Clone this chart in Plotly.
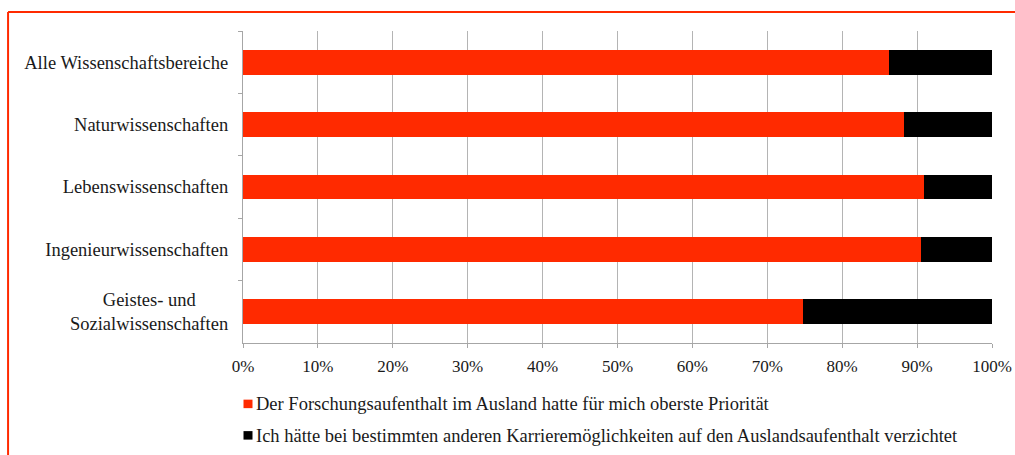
import plotly.graph_objects as go

# Category labels (top to bottom) and shares in percent
categories = [
    "Alle Wissenschaftsbereiche",
    "Naturwissenschaften",
    "Lebenswissenschaften",
    "Ingenieurwissenschaften",
    "Geistes- und&nbsp;&nbsp;&nbsp;&nbsp;&nbsp;&nbsp;&nbsp;<br>Sozialwissenschaften",
]
prioritaet = [86.3, 88.3, 90.9, 90.5, 74.7]
verzicht = [13.7, 11.7, 9.1, 9.5, 25.3]

series_names = [
    "Der Forschungsaufenthalt im Ausland hatte für mich oberste Priorität",
    "Ich hätte bei bestimmten anderen Karrieremöglichkeiten auf den Auslandsaufenthalt verzichtet",
]
series_colors = ["#FF2A00", "#000000"]

x_tickvals = list(range(0, 101, 10))
x_ticktext = [f"{v}%" for v in x_tickvals]

W, H = 1015, 455
M_L, M_R, M_T, M_B = 242.5, 23.3, 31, 111.7
PLOT_W = W - M_L - M_R
PLOT_H = H - M_T - M_B


def px_x(px):
    return (px - M_L) / PLOT_W


def px_y(py):
    return (H - M_B - py) / PLOT_H


FONT = "Liberation Serif, Georgia, serif"
TEXT = "#1a1a1a"
AXIS = "#a6a6a6"

fig = go.Figure()
for name, vals, col in zip(series_names, [prioritaet, verzicht], series_colors):
    fig.add_trace(go.Bar(
        y=categories, x=vals, name=name, orientation="h",
        marker=dict(color=col, line=dict(width=0)),
        showlegend=False,
    ))

# Legend drawn as swatches plus text, one row per series
legend_rows_px = [404.5, 436]
shapes = []
annotations = []
for name, col, row in zip(series_names, series_colors, legend_rows_px):
    shapes.append(dict(
        type="rect", xref="paper", yref="paper",
        xsizemode="pixel", ysizemode="pixel",
        xanchor=px_x(243), yanchor=px_y(row),
        x0=0, x1=9, y0=-4, y1=4.5,
        fillcolor=col, line=dict(width=0),
    ))
    annotations.append(dict(
        xref="paper", yref="paper", x=px_x(253.5), y=px_y(row),
        xanchor="left", yanchor="middle", showarrow=False,
        text=name, font=dict(family=FONT, size=18.5, color=TEXT),
    ))

# Red frame: top edge and left edge
shapes.append(dict(type="line", xref="paper", yref="paper",
                   x0=px_x(7.5), x1=px_x(1020), y0=px_y(12), y1=px_y(12),
                   line=dict(color="#FF2A00", width=2)))
shapes.append(dict(type="line", xref="paper", yref="paper",
                   x0=px_x(7.5), x1=px_x(7.5), y0=px_y(12), y1=px_y(460),
                   line=dict(color="#FF2A00", width=2)))

fig.update_layout(
    width=W, height=H,
    margin=dict(l=M_L, r=M_R, t=M_T, b=M_B, pad=0, autoexpand=False),
    barmode="stack", bargap=0.6,
    plot_bgcolor="white", paper_bgcolor="white",
    font=dict(family=FONT, size=18.5, color=TEXT),
    shapes=shapes, annotations=annotations,
    xaxis=dict(
        range=[0, 100], tickmode="array", tickvals=x_tickvals, ticktext=x_ticktext,
        showgrid=True, gridcolor="#b4b4b4", gridwidth=1.3,
        showline=True, linecolor=AXIS, linewidth=1.3,
        ticks="outside", ticklen=4, tickcolor=AXIS, tickwidth=1.3,
        tickfont=dict(family=FONT, size=17), zeroline=False,
        ticklabelstandoff=3, automargin=False,
    ),
    yaxis=dict(
        type="category", autorange="reversed",
        tickson="boundaries", ticks="outside", ticklen=4,
        tickcolor=AXIS, tickwidth=1.3,
        showline=True, linecolor=AXIS, linewidth=1.3,
        showgrid=False, zeroline=False,
        tickfont=dict(family=FONT, size=18.5), ticklabelstandoff=10,
        automargin=False,
    ),
)

fig.write_html("out.html")
